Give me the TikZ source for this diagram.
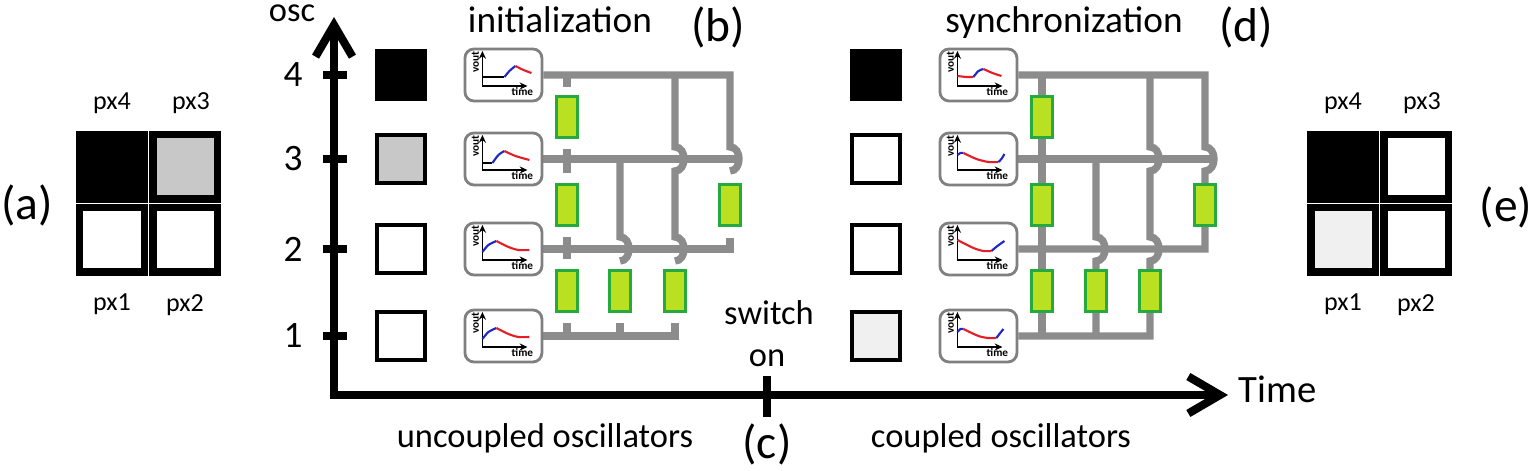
\documentclass[tikz,border=0pt]{standalone}
\usepackage{fontspec}
\setmainfont{Carlito}
\usepackage{tikz}
\usetikzlibrary{arrows.meta,positioning,calc,backgrounds}
\definecolor{wiregray}{RGB}{140,140,140}
\definecolor{boxgray}{RGB}{128,128,128}
\definecolor{resfill}{RGB}{186,224,34}
\definecolor{resedge}{RGB}{38,170,62}
\definecolor{pxgray}{RGB}{200,200,200}
\definecolor{pxlight}{RGB}{240,240,240}
\definecolor{vred}{RGB}{228,30,36}
\definecolor{vblue}{RGB}{30,40,200}
\tikzstyle{cell} = [draw=black, line width=2pt, minimum size=0.64cm, inner sep=0pt]
\tikzstyle{osq} = [draw=black, line width=1.4pt, minimum size=0.48cm, inner sep=0pt]
\tikzstyle{plotbox} = [draw=boxgray, line width=0.8pt, rounded corners=2.6pt,
minimum width=0.77cm, minimum height=0.52cm, fill=white, inner sep=0pt]
\tikzstyle{res} = [draw=resedge, fill=resfill, line width=1pt,
minimum width=0.21cm, minimum height=0.41cm, inner sep=0pt]
\tikzstyle{wire} = [draw=wiregray, line width=2.1pt]
\tikzstyle{oaxis} = [line width=2.3pt]
\tikzstyle{lbl} = [font=\fontsize{10.6}{12}\selectfont, inner sep=0pt]
\tikzstyle{sub} = [font=\fontsize{9.8}{11}\selectfont, inner sep=0pt]
\tikzstyle{panel} = [font=\fontsize{13.5}{15}\selectfont, inner sep=0pt]
\tikzstyle{pxl} = [font=\fontsize{7.4}{8}\selectfont, inner sep=0pt]
\tikzstyle{tinytxt} = [font=\fontsize{3.2}{3.5}\selectfont\bfseries, inner sep=0pt]
\tikzstyle{vtrace} = [line width=0.6pt]
\tikzstyle{mini} = [line width=0.4pt, -{Stealth[length=2.2pt,width=2pt]}]

% small vout/time plot inside a box node
\newcommand{\miniplot}[2]{%
  \begin{scope}[shift={(#1.center)}]
    \draw[mini] (-21,11) -- (-21,-24);
    \draw[mini] (-21,11) -- (24,11);
    \node[tinytxt, rotate=90] at (-28,-13) {vout};
    \node[tinytxt] at (19,17) {time};
    #2
  \end{scope}}

\begin{document}
\begin{tikzpicture}[x=0.01cm, y=-0.01cm,
  >={Straight Barb[length=9pt,width=10.5pt]}]
\useasboundingbox (0,0) rectangle (1534,471);

% (a) pixels before
\node[cell, fill=black]  (a4) at (112,167) {};
\node[cell, fill=pxgray] (a3) at (185,167) {};
\node[cell, fill=white]  (a1) at (112,240) {};
\node[cell, fill=white]  (a2) at (185,240) {};
\node[pxl, above=0.17cm of a4]              (a4l) {px4};
\node[pxl, above=0.17cm of a3, xshift=0.06cm] (a3l) {px3};
\node[pxl, below=0.18cm of a1]              (a1l) {px1};
\node[pxl, below=0.18cm of a2]              (a2l) {px2};
\node[panel] (ta) at (27,205) {(a)};

% (e) pixels after
\node[cell, fill=black]   (e4) at (1343,167) {};
\node[cell, fill=white]   (e3) at (1416,167) {};
\node[cell, fill=pxlight] (e1) at (1343,240) {};
\node[cell, fill=white]   (e2) at (1416,240) {};
\node[pxl, above=0.17cm of e4]              (e4l) {px4};
\node[pxl, above=0.17cm of e3, xshift=0.06cm] (e3l) {px3};
\node[pxl, below=0.18cm of e1]              (e1l) {px1};
\node[pxl, below=0.18cm of e2]              (e2l) {px2};
\node[panel] (te) at (1506,207) {(e)};

% axes
\coordinate (O)   at (334,395);
\coordinate (Yax) at (334,17);
\coordinate (Xax) at (1228,395);
\draw[oaxis, <->] (Yax) -- (O) -- (Xax);
\draw[oaxis] (767,376) -- (767,417);
\foreach \n/\y in {4/75,3/159,2/249,1/336}{
  \draw[oaxis] (323,\y) -- (347,\y);
  \node[lbl] (n\n) at (293,\y) {\n};
}
\node[lbl, anchor=base, font=\fontsize{9.8}{11}\selectfont] (osc) at (292,22) {osc};
\node[lbl, anchor=base west, font=\fontsize{11}{13}\selectfont] (time) at (1238,403) {Time};

\node[lbl, anchor=base] (init) at (560,33)  {initialization};
\node[panel]            (tb)   at (718,27)  {(b)};
\node[lbl, anchor=base] (sync) at (1064,33) {synchronization};
\node[panel]            (td)   at (1246,27) {(d)};
\node[sub, anchor=base] (sw)   at (769,325) {switch};
\node[sub, anchor=base] (on)   at (767,367) {on};
\node[panel]            (tc)   at (767,444) {(c)};
\node[sub, anchor=base] (unc)  at (545,448) {uncoupled oscillators};
\node[sub, anchor=base] (cpl)  at (1001,448) {coupled oscillators};

% (b) uncoupled oscillators
\foreach \n/\y/\fc in {4/75/black,3/159/pxgray,2/249/white,1/336/white}{
  \node[osq, fill=\fc] (iq\n) at (401,\y) {};
  \node[plotbox, right=0.36cm of iq\n] (ia\n) {};
}
\node[res] (iaR43) at (567,117) {};
\node[res] (iaR32) at (567,205) {};
\node[res] (iaR21) at (567,291) {};
\node[res] (iaR31) at (620,291) {};
\node[res] (iaR41) at (675,291) {};
\node[res] (iaR42) at (730,205) {};

\begin{scope}[on background layer]
  \draw[wire] (ia4.east) -| ($(iaR42|-ia3)+(0,-12)$) .. controls +(12,0) and +(12,0) .. ($(iaR42|-ia3)+(0,12)$);
  \draw[wire] (iaR41|-ia4) -- ($(iaR41|-ia3)+(0,-12)$) .. controls +(12,0) and +(12,0) .. ($(iaR41|-ia3)+(0,12)$)
    -- ($(iaR41|-ia2)+(0,-12)$) .. controls +(12,0) and +(12,0) .. ($(iaR41|-ia2)+(0,12)$);
  \draw[wire] (ia3.east) -- ($(iaR42|-ia3)+(10,0)$);
  \draw[wire] (iaR31|-ia3) -- ($(iaR31|-ia2)+(0,-12)$) .. controls +(12,0) and +(12,0) .. ($(iaR31|-ia2)+(0,12)$);
  \draw[wire] (ia2.east) -| ($(iaR42.south)+(0,11)$);
  \draw[wire] (ia1.east) -| ($(iaR41.south)+(0,10)$);
  \draw[wire] (iaR31|-ia1) -- ($(iaR31.south)+(0,10)$);
  \draw[wire] (iaR43|-ia4) -- ($(iaR43.north)+(0,-8)$);
  \draw[wire] ($(iaR43.south)+(0,10)$) -- ($(iaR32.north)+(0,-10)$);
  \draw[wire] ($(iaR32.south)+(0,10)$) -- ($(iaR21.north)+(0,-10)$);
  \draw[wire] (iaR21|-ia1) -- ($(iaR21.south)+(0,10)$);
\end{scope}

\miniplot{ia4}{
  \draw[vtrace] (-21,2) -- (1,2);
  \draw[vtrace, vblue] plot[smooth] coordinates {(1,2) (6,-4) (12,-9)};
  \draw[vtrace, vred] plot[smooth] coordinates {(12,-9) (20,-5) (28,-2)};}
\miniplot{ia3}{
  \draw[vtrace] (-21,4) -- (-11,4);
  \draw[vtrace, vblue] plot[smooth] coordinates {(-11,4) (-5,-4) (1,-8)};
  \draw[vtrace, vred] plot[smooth] coordinates {(1,-8) (12,-3) (26,1)};}
\miniplot{ia2}{
  \draw[vtrace, vblue] plot[smooth] coordinates {(-21,3) (-15,-4) (-7,-8)};
  \draw[vtrace, vred] plot[smooth] coordinates {(-7,-8) (5,-2) (15,1) (26,1)};}
\miniplot{ia1}{
  \draw[vtrace, vblue] plot[smooth] coordinates {(-21,3) (-15,-4) (-7,-8)};
  \draw[vtrace, vred] plot[smooth] coordinates {(-7,-8) (5,-2) (15,1) (26,1)};}

% (d) coupled oscillators
\foreach \n/\y/\fc in {4/75/black,3/159/white,2/249/white,1/336/pxlight}{
  \node[osq, fill=\fc] (sq\n) at (876,\y) {};
  \node[plotbox, right=0.36cm of sq\n] (sy\n) {};
}
\node[res] (syR43) at (1042,117) {};
\node[res] (syR32) at (1042,205) {};
\node[res] (syR21) at (1042,291) {};
\node[res] (syR31) at (1096,291) {};
\node[res] (syR41) at (1150,291) {};
\node[res] (syR42) at (1205,205) {};

\begin{scope}[on background layer]
  \draw[wire] (sy4.east) -| ($(syR42|-sy3)+(0,-12)$) .. controls +(12,0) and +(12,0) .. ($(syR42|-sy3)+(0,12)$) |- (sy2.east);
  \draw[wire] (syR41|-sy4) -- ($(syR41|-sy3)+(0,-12)$) .. controls +(12,0) and +(12,0) .. ($(syR41|-sy3)+(0,12)$)
    -- ($(syR41|-sy2)+(0,-12)$) .. controls +(12,0) and +(12,0) .. ($(syR41|-sy2)+(0,12)$) |- (sy1.east);
  \draw[wire] (sy3.east) -- ($(syR42|-sy3)+(10,0)$);
  \draw[wire] (syR31|-sy3) -- ($(syR31|-sy2)+(0,-12)$) .. controls +(12,0) and +(12,0) .. ($(syR31|-sy2)+(0,12)$) -- (syR31|-sy1);
  \draw[wire] (syR43|-sy4) -- (syR21|-sy1);
\end{scope}

\miniplot{sy4}{
  \draw[vtrace, vred] plot[smooth] coordinates {(-21,1) (-12,2) (-5,2)};
  \draw[vtrace, vblue] plot[smooth] coordinates {(-5,2) (0,-4) (5,-6)};
  \draw[vtrace, vred] plot[smooth] coordinates {(5,-6) (14,-2) (23,1)};}
\miniplot{sy3}{
  \draw[vtrace, vblue] plot[smooth] coordinates {(-21,-4) (-18,-6) (-15,-6)};
  \draw[vtrace, vred] plot[smooth] coordinates {(-15,-6) (-2,0) (10,3) (20,3)};
  \draw[vtrace, vblue] plot[smooth] coordinates {(20,3) (23,0) (26,-5)};}
\miniplot{sy2}{
  \draw[vtrace, vred] plot[smooth] coordinates {(-21,-9) (-5,-1) (5,2) (13,2)};
  \draw[vtrace, vblue] plot[smooth] coordinates {(13,2) (19,-3) (26,-8)};}
\miniplot{sy1}{
  \draw[vtrace, vblue] plot[smooth] coordinates {(-21,-4) (-18,-7) (-15,-7)};
  \draw[vtrace, vred] plot[smooth] coordinates {(-15,-7) (0,0) (10,2) (18,2)};
  \draw[vtrace, vblue] plot[smooth] coordinates {(18,2) (21,-2) (25,-7)};}
\end{tikzpicture}
\end{document}
